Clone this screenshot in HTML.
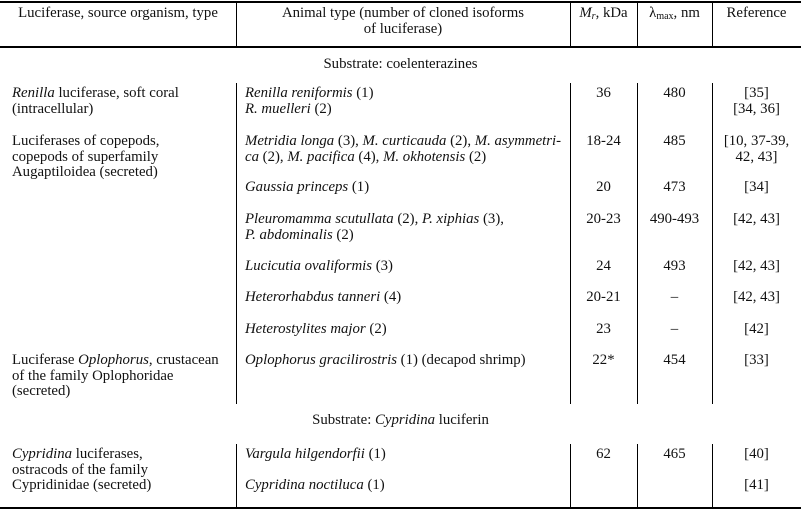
<!DOCTYPE html>
<html><head><meta charset="utf-8"><style>
body{margin:0;background:#fff;}
#c{position:relative;width:801px;height:510px;overflow:hidden;font-family:"Liberation Serif",serif;font-size:14.8px;color:#111;}
.t{position:absolute;line-height:15.5px;white-space:nowrap;}
.h{position:absolute;left:0;width:801px;height:1px;background:#000;}
.v{position:absolute;width:1px;background:#000;}
.cc{text-align:center;}
i{font-style:italic;}
sub{font-size:10px;vertical-align:-2px;line-height:0;}
</style></head><body><div id="c">
<div class="h" style="top:1px;height:1.5px"></div>
<div class="h" style="top:46px;height:1.5px"></div>
<div class="h" style="top:507px;height:1.5px"></div>
<div class="v" style="left:236px;top:1px;height:46px"></div>
<div class="v" style="left:570px;top:1px;height:46px"></div>
<div class="v" style="left:637px;top:1px;height:46px"></div>
<div class="v" style="left:712px;top:1px;height:46px"></div>
<div class="v" style="left:236px;top:83px;height:321px"></div>
<div class="v" style="left:570px;top:83px;height:321px"></div>
<div class="v" style="left:637px;top:83px;height:321px"></div>
<div class="v" style="left:712px;top:83px;height:321px"></div>
<div class="v" style="left:236px;top:444px;height:64px"></div>
<div class="v" style="left:570px;top:444px;height:64px"></div>
<div class="v" style="left:637px;top:444px;height:64px"></div>
<div class="v" style="left:712px;top:444px;height:64px"></div>

<div class="t cc" style="left:0;width:236px;top:6px">Luciferase, source organism, type</div>
<div class="t cc" style="left:236px;width:334px;top:6px">Animal type (number of cloned isoforms<br>of luciferase)</div>
<div class="t cc" style="left:570px;width:67px;top:6px"><i>M<sub>r</sub></i>, kDa</div>
<div class="t cc" style="left:637px;width:75px;top:6px">λ<sub>max</sub>, nm</div>
<div class="t cc" style="left:712px;width:89px;top:6px">Reference</div>

<div class="t cc" style="left:0;width:801px;top:57px">Substrate: coelenterazines</div>

<div class="t" style="left:12px;top:86px"><i>Renilla</i> luciferase, soft coral<br>(intracellular)</div>
<div class="t" style="left:245px;top:86px"><i>Renilla reniformis</i> (1)<br><i>R. muelleri</i> (2)</div>
<div class="t cc" style="left:570px;width:67px;top:86px">36</div>
<div class="t cc" style="left:637px;width:75px;top:86px">480</div>
<div class="t cc" style="left:712px;width:89px;top:86px">[35]<br>[34, 36]</div>

<div class="t" style="left:12px;top:134px">Luciferases of copepods,<br>copepods of superfamily<br>Augaptiloidea (secreted)</div>
<div class="t" style="left:245px;top:134px"><i>Metridia longa</i> (3), <i>M. curticauda</i> (2), <i>M. asymmetri-<br>ca</i> (2), <i>M. pacifica</i> (4), <i>M. okhotensis</i> (2)</div>
<div class="t cc" style="left:570px;width:67px;top:134px">18-24</div>
<div class="t cc" style="left:637px;width:75px;top:134px">485</div>
<div class="t cc" style="left:712px;width:89px;top:134px">[10, 37-39,<br>42, 43]</div>

<div class="t" style="left:245px;top:180px"><i>Gaussia princeps</i> (1)</div>
<div class="t cc" style="left:570px;width:67px;top:180px">20</div>
<div class="t cc" style="left:637px;width:75px;top:180px">473</div>
<div class="t cc" style="left:712px;width:89px;top:180px">[34]</div>

<div class="t" style="left:245px;top:212px"><i>Pleuromamma scutullata</i> (2), <i>P. xiphias</i> (3),<br><i>P. abdominalis</i> (2)</div>
<div class="t cc" style="left:570px;width:67px;top:212px">20-23</div>
<div class="t cc" style="left:637px;width:75px;top:212px">490-493</div>
<div class="t cc" style="left:712px;width:89px;top:212px">[42, 43]</div>

<div class="t" style="left:245px;top:259px"><i>Lucicutia ovaliformis</i> (3)</div>
<div class="t cc" style="left:570px;width:67px;top:259px">24</div>
<div class="t cc" style="left:637px;width:75px;top:259px">493</div>
<div class="t cc" style="left:712px;width:89px;top:259px">[42, 43]</div>

<div class="t" style="left:245px;top:290px"><i>Heterorhabdus tanneri</i> (4)</div>
<div class="t cc" style="left:570px;width:67px;top:290px">20-21</div>
<div class="t cc" style="left:637px;width:75px;top:290px">–</div>
<div class="t cc" style="left:712px;width:89px;top:290px">[42, 43]</div>

<div class="t" style="left:245px;top:322px"><i>Heterostylites major</i> (2)</div>
<div class="t cc" style="left:570px;width:67px;top:322px">23</div>
<div class="t cc" style="left:637px;width:75px;top:322px">–</div>
<div class="t cc" style="left:712px;width:89px;top:322px">[42]</div>

<div class="t" style="left:12px;top:353px">Luciferase <i>Oplophorus</i>, crustacean<br>of the family Oplophoridae<br>(secreted)</div>
<div class="t" style="left:245px;top:353px"><i>Oplophorus gracilirostris</i> (1) (decapod shrimp)</div>
<div class="t cc" style="left:570px;width:67px;top:353px">22*</div>
<div class="t cc" style="left:637px;width:75px;top:353px">454</div>
<div class="t cc" style="left:712px;width:89px;top:353px">[33]</div>

<div class="t cc" style="left:0;width:801px;top:413px">Substrate: <i>Cypridina</i> luciferin</div>

<div class="t" style="left:12px;top:447px"><i>Cypridina</i> luciferases,<br>ostracods of the family<br>Cypridinidae (secreted)</div>
<div class="t" style="left:245px;top:447px"><i>Vargula hilgendorfii</i> (1)</div>
<div class="t cc" style="left:570px;width:67px;top:447px">62</div>
<div class="t cc" style="left:637px;width:75px;top:447px">465</div>
<div class="t cc" style="left:712px;width:89px;top:447px">[40]</div>
<div class="t" style="left:245px;top:478px"><i>Cypridina noctiluca</i> (1)</div>
<div class="t cc" style="left:712px;width:89px;top:478px">[41]</div>
</div></body></html>
